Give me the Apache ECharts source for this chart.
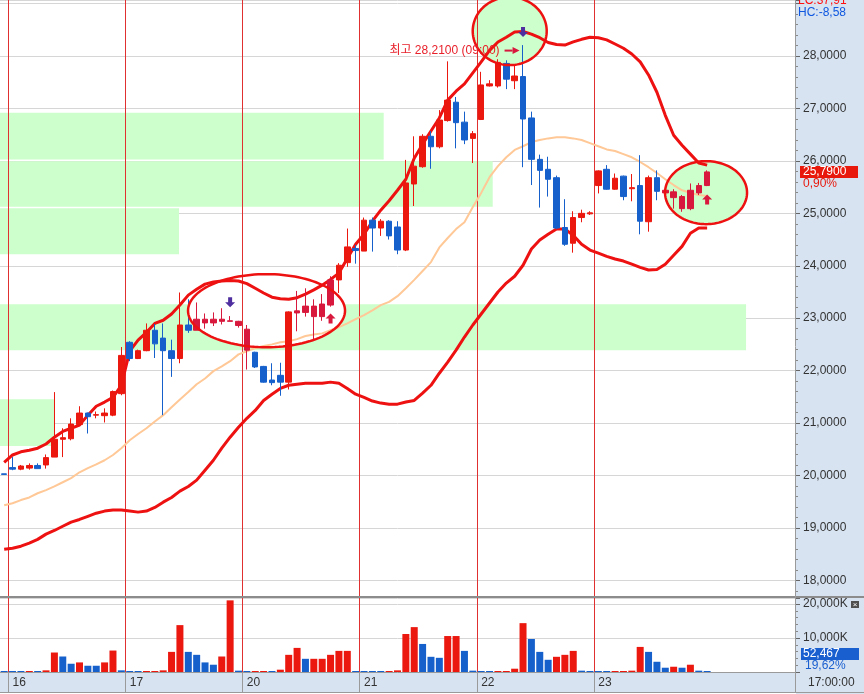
<!DOCTYPE html>
<html><head><meta charset="utf-8">
<script src="https://cdn.jsdelivr.net/npm/echarts@6/dist/echarts.min.js"></script>
<style>html,body{margin:0;padding:0;background:#fff}#c{width:864px;height:694px}</style>
</head><body><div id="c"></div>
<script>
// ---------- data ----------
const dayLabels = ['16','17','20','21','22','23'];
const dayStartIdx = [1,15,29,43,57,71];
const slotCount = 95;
const openP  = [20.03,20.15,20.12,20.14,20.19,20.20,20.35,20.69,20.70,20.97, 21.19,21.15,21.14,21.15,21.56,22.54,22.23,22.38,22.77,22.62, 22.38,22.23,22.87,22.77,22.98,22.91,22.98,22.95,22.94,22.79, 22.35,22.08,21.82,21.91,21.78,23.10,23.11,23.23,23.03,23.25, 23.73,24.06,24.33,24.28,24.87,24.72,24.85,24.74,24.30,25.56, 25.89,26.47,26.27,26.77,27.12,26.74,26.43,26.79,27.43,27.43, 27.86,27.53,27.61,26.82,26.03,25.84,25.68,24.73,24.43,24.92, 24.99,25.53,25.84,25.46,25.71,25.47,25.53,24.84,25.68,25.44, 25.41,25.32,25.09,25.39,25.53];
const closeP = [20.02,20.12,20.18,20.19,20.13,20.34,20.69,20.72,20.98,21.19, 21.12,21.16,21.19,21.60,22.29,22.23,22.38,22.77,22.51,22.38, 22.23,22.87,22.77,22.98,22.91,22.98,22.94,22.94,22.86,22.39, 22.07,21.78,21.77,21.78,23.12,23.14,23.23,23.03,23.27,23.73, 24.01,24.36,24.29,24.87,24.72,24.85,24.57,24.30,25.58,25.90, 26.47,26.27,26.78,27.16,26.73,26.40,26.52,27.45,27.47,27.88, 27.56,27.62,26.80,26.03,25.82,25.65,24.72,24.41,24.92,25.00, 25.01,25.81,25.46,25.67,25.32,25.49,24.85,25.68,25.42,25.39, 25.30,25.09,25.44,25.53,25.79];
const lowP   = [20.01,20.10,20.10,20.11,20.13,20.13,20.35,20.35,20.67,20.96, 20.80,21.09,21.01,21.13,21.53,22.18,22.22,22.37,22.24,21.15, 21.88,22.14,22.72,22.77,22.80,22.85,22.88,22.94,22.82,22.02, 22.05,21.77,21.72,21.52,21.64,22.75,23.03,22.58,22.95,23.22, 23.48,23.98,24.04,24.28,24.27,24.57,24.50,24.22,24.28,25.14, 25.87,25.85,26.24,26.75,26.24,26.32,25.96,26.78,27.42,27.40, 27.37,27.37,25.88,25.54,25.11,25.32,24.70,24.38,24.25,24.83, 24.97,25.38,25.45,25.45,25.25,25.23,24.60,24.65,25.25,25.33, 25.09,25.03,25.06,25.35,25.52];
const highP  = [20.03,20.35,20.20,20.23,20.23,20.40,21.59,20.90,21.09,21.32, 21.20,21.22,21.28,21.62,22.45,22.56,22.40,22.90,22.89,22.90, 22.59,23.49,23.36,23.30,23.09,23.11,23.19,23.04,22.95,22.87, 22.36,22.09,22.14,22.15,23.13,23.52,23.57,23.36,23.46,23.80, 24.05,24.71,24.40,24.92,24.92,24.89,24.87,24.85,26.02,26.47, 26.51,26.57,26.97,27.90,27.22,26.94,26.57,27.70,27.54,27.94, 27.92,27.83,28.21,26.94,26.12,26.08,25.72,25.27,25.04,25.07, 25.04,25.82,25.92,25.76,25.72,25.75,26.11,25.72,25.82,25.46, 25.46,25.35,25.57,25.58,25.82];
const upperBand = [20.25,20.39,20.45,20.48,20.52,20.60,20.73,20.84,20.90,20.96, 21.15,21.32,21.40,21.49,21.72,22.37,22.58,22.73,22.90,22.96, 23.08,23.25,23.44,23.55,23.65,23.69,23.71,23.72,23.71,23.66, 23.57,23.48,23.40,23.37,23.36,23.39,23.46,23.54,23.63,23.74, 23.86,24.14,24.41,24.60,24.85,25.06,25.24,25.44,25.65,26.05, 26.32,26.57,26.82,27.16,27.33,27.47,27.68,27.89,28.11,28.27, 28.36,28.46,28.47,28.42,28.35,28.26,28.22,28.21,28.27,28.32, 28.36,28.35,28.31,28.23,28.15,28.04,27.89,27.64,27.31,26.87, 26.49,26.30,26.13,25.96,25.92];
const middleBand = [19.43,19.47,19.53,19.58,19.66,19.72,19.79,19.87,19.95,20.06, 20.14,20.21,20.29,20.39,20.52,20.67,20.79,20.90,21.03,21.15, 21.30,21.45,21.59,21.74,21.85,21.99,22.08,22.18,22.31,22.37, 22.43,22.47,22.50,22.54,22.56,22.60,22.66,22.69,22.71,22.77, 22.83,22.90,22.98,23.06,23.15,23.25,23.31,23.42,23.57,23.73, 23.90,24.07,24.35,24.53,24.70,24.83,25.12,25.39,25.69,25.90, 26.07,26.21,26.28,26.36,26.40,26.43,26.45,26.45,26.43,26.40, 26.34,26.28,26.22,26.19,26.13,26.07,25.98,25.88,25.77,25.65, 25.54,25.44,25.39,25.35,25.33];
const lowerBand = [18.59,18.61,18.65,18.71,18.78,18.88,18.95,19.03,19.11,19.16, 19.22,19.28,19.32,19.34,19.34,19.32,19.30,19.32,19.39,19.49, 19.58,19.70,19.79,19.91,20.10,20.29,20.52,20.73,20.92,21.09, 21.24,21.43,21.55,21.66,21.72,21.74,21.76,21.76,21.76,21.78, 21.76,21.66,21.55,21.49,21.42,21.38,21.36,21.36,21.40,21.43, 21.57,21.72,21.95,22.16,22.39,22.64,22.87,23.08,23.29,23.50, 23.67,23.80,24.01,24.32,24.49,24.60,24.70,24.70,24.58,24.41, 24.30,24.24,24.18,24.13,24.09,24.03,23.97,23.92,23.93,24.03, 24.20,24.37,24.62,24.72,24.72];
const volumeK = [300,300,300,300,300,485,5730,4560,2430,2820, 1840,1840,2820,6310,485,300,300,300,300,485, 5920,13790,5920,5050,2820,2140,4560,21070,390,300, 300,300,300,680,5050,7090,3880,3880,3880,5050, 6210,6210,300,300,300,300,300,485,11170,13200, 8250,4470,4170,10580,10580,6210,390,300,300,300, 300,970,14370,9710,5920,3590,4470,5050,6210,390, 300,300,300,300,300,390,7380,5920,3010,1260, 1550,1260,2140,390,300];
const volumeUp = [0,0,0,1,0,1,1,0,0,1, 0,0,1,1,0,0,0,1,1,1, 1,1,0,0,0,0,1,1,0,0, 1,1,0,1,1,1,0,1,1,1, 1,1,0,0,0,0,1,1,1,1, 0,0,0,1,1,0,0,0,0,1, 1,1,1,0,0,0,1,1,1,0, 0,0,0,1,1,1,1,0,0,0, 1,0,1,0,0];
// annotation geometry in data units: [xFrom, xTo, priceTop, priceBottom]
const zones = [[-0.5,45.35,26.918,26.029],[-0.5,58.38,25.996,25.124],[-0.5,20.89,25.099,24.221],[-0.5,88.65,23.267,22.389],[-0.5,5.95,21.454,20.563]];
// ellipses: [centerSlot, centerPrice, radiusSlots, radiusPrice]
const ellipses = [[31.35,23.143,9.38,0.697],[60.41,28.477,4.42,0.649],[83.87,25.395,4.9,0.601]];
const ellipseCandles = [23,24,25,26,27,28,29,35,36,37,38,39,79,80,81,82,83,84];
const downArrowAt = [[27,23.305],[62,28.458]];
const upArrowAt = [[39,22.994],[84,25.262]];
const highNoteAt = [60.63,28.105];
const highNoteIdx = 62, highNoteTime = '09:00';
const lastChangePct = '0,90%';
const sideTexts = {lc:'LC:37,91', hc:'HC:-8,58', vol:'52,467', volPct:'19,62%', time:'17:00:00'};

// ---------- styles ----------
const UP='#eb180f', DOWN='#1660cc', UP_T='#d8183c', DOWN_T='#2560fa';
const PANEL='#d7e3f1', DAYLINE='#e03030', GRIDC='#d6d6d6';
const FONT='"Liberation Sans", Arial, sans-serif';
const fmt4 = v => v.toFixed(4).replace('.', ',');

const categories = Array.from({length:slotCount}, (_, i) => 'c' + i);
const dayOf = {};
dayStartIdx.forEach((s, k) => { dayOf['c' + s] = dayLabels[k]; });
const isDayStart = (idx) => dayStartIdx.indexOf(idx) >= 0;
const dayBounds = dayStartIdx.map(s => [s - 0.5, 0]);

const candleData = openP.map((o, i) => {
  const item = {value:[o, closeP[i], lowP[i], highP[i]]};
  if (ellipseCandles.indexOf(i) >= 0) item.itemStyle = {color:UP_T, color0:DOWN_T, borderColor:UP_T, borderColor0:DOWN_T};
  return item;
});
const volData = volumeK.map((v, i) => ({value:v, itemStyle:{color: volumeUp[i] ? UP : DOWN}}));

const ellipseFills = ['#ffffff', '#ccffcc', '#ccffcc'];
function ellipsePoints(api, cx, cy, rx, ry) {
  const c = api.coord([cx, cy]);
  const prx = api.coord([cx + rx, cy])[0] - c[0];
  const pry = c[1] - api.coord([cx, cy + ry])[1];
  const pts = [];
  for (let k = 0; k < 120; k++) {
    const t = k / 120 * Math.PI * 2;
    pts.push([c[0] + prx * Math.cos(t), c[1] + pry * Math.sin(t)]);
  }
  return pts;
}
function dayLineItem(params, api) {
  const cs = params.coordSys;
  const x = Math.floor(api.coord([api.value(0), 0])[0]) + 0.5;
  return {type:'line', shape:{x1:x, y1:cs.y, x2:x, y2:cs.y + cs.height}, style:{stroke:DAYLINE, lineWidth:1}};
}
function bandTickItem(params, api) {
  const cs = params.coordSys;
  const x = Math.floor(api.coord([api.value(0), 0])[0]) + 0.5;
  return {type:'line', shape:{x1:x, y1:cs.y + cs.height, x2:x, y2:cs.y + cs.height + 20}, style:{stroke:'#9a9a9a', lineWidth:1}};
}

const markData = [
  ...downArrowAt.map(p => [p[0], p[1], 0]),
  ...upArrowAt.map(p => [p[0], p[1], 1]),
  [highNoteAt[0], highNoteAt[1], 2]
];

const hiddenX = (g) => ({type:'value', gridIndex:g, min:-0.5, max:slotCount-0.5, show:false,
  axisLine:{show:false, onZero:false}, axisTick:{show:false}, axisLabel:{show:false}, splitLine:{show:false}});

const chart = echarts.init(document.getElementById('c'), null, {renderer:'canvas'});
const option = {
  animation:false,
  textStyle:{fontFamily:FONT},
  grid:[{left:0,right:69,top:0,height:596},{left:0,right:69,top:598,height:74}],
  xAxis:[
    {type:'category', gridIndex:0, data:categories, boundaryGap:true, axisLine:{show:false, onZero:false}, axisTick:{show:false}, axisLabel:{show:false}, splitLine:{show:false}},
    {type:'category', gridIndex:1, data:categories, boundaryGap:true,
      axisLine:{show:true, onZero:false, lineStyle:{color:'#9a9a9a'}},
      axisTick:{show:false},
      axisLabel:{show:true, interval:isDayStart, formatter:(v)=>dayOf[v]||'', align:'left', margin:5, color:'#333', fontSize:12, fontFamily:FONT},
      splitLine:{show:false}},
    hiddenX(0),
    hiddenX(1)
  ],
  yAxis:[
    {type:'value', gridIndex:0, position:'right', min:17.70, max:29.07, splitNumber:11, scale:true,
      axisLine:{show:false, onZero:false},
      axisTick:{show:true, length:5, lineStyle:{color:'#666'}},
      minorTick:{show:true, splitNumber:5, length:3, lineStyle:{color:'#888'}},
      splitLine:{show:true, lineStyle:{color:GRIDC}},
      axisLabel:{margin:8, color:'#333', fontSize:12, fontFamily:FONT, showMinLabel:false, showMaxLabel:false,
        formatter:v => (v > 28.5 || v < 17.9) ? '' : fmt4(v)}},
    {type:'value', gridIndex:1, position:'right', min:0, max:21765, interval:10000,
      axisLine:{show:false, onZero:false},
      axisTick:{show:true, length:5, lineStyle:{color:'#666'}},
      minorTick:{show:true, splitNumber:5, length:3, lineStyle:{color:'#888'}},
      splitLine:{show:true, lineStyle:{color:GRIDC}},
      axisLabel:{margin:8, color:'#333', fontSize:12, fontFamily:FONT,
        formatter:v => v === 10000 ? '10,000K' : v === 20000 ? '20,000K' : ''}}
  ],
  series:[
    {type:'custom', name:'zones', xAxisIndex:2, yAxisIndex:0, z:1, silent:true, data:zones,
      renderItem:(params, api) => {
        const a = api.coord([api.value(0), api.value(2)]);
        const b = api.coord([api.value(1), api.value(3)]);
        return {type:'rect', shape:{x:a[0], y:a[1], width:b[0]-a[0], height:b[1]-a[1]}, style:{fill:'#ccffcc'}};
      }
    },
    {type:'custom', name:'ellipseFill', xAxisIndex:2, yAxisIndex:0, z:2, silent:true, data:ellipses,
      renderItem:(params, api) => ({type:'polygon', shape:{points:ellipsePoints(api, api.value(0), api.value(1), api.value(2), api.value(3))}, style:{fill:ellipseFills[params.dataIndex]}})
    },
    {type:'custom', name:'dayLinesMain', xAxisIndex:2, yAxisIndex:0, z:2, silent:true, data:dayBounds, renderItem:dayLineItem},
    {type:'custom', name:'dayLinesVol', xAxisIndex:3, yAxisIndex:1, z:1, silent:true, data:dayBounds, renderItem:dayLineItem},
    {type:'custom', name:'bandTicks', xAxisIndex:3, yAxisIndex:1, z:1, silent:true, clip:false, data:dayBounds, renderItem:bandTickItem},
    {type:'line', name:'mid', xAxisIndex:0, yAxisIndex:0, z:3, data:middleBand, showSymbol:false, symbol:'none', lineStyle:{color:'#ffc896', width:2}},
    {type:'line', name:'upper', xAxisIndex:0, yAxisIndex:0, z:3, data:upperBand, showSymbol:false, symbol:'none', lineStyle:{color:'#ee1111', width:3}},
    {type:'line', name:'lower', xAxisIndex:0, yAxisIndex:0, z:3, data:lowerBand, showSymbol:false, symbol:'none', lineStyle:{color:'#ee1111', width:3}},
    {type:'candlestick', name:'price', xAxisIndex:0, yAxisIndex:0, z:4, data:candleData, barWidth:6,
      itemStyle:{color:UP, color0:DOWN, borderColor:UP, borderColor0:DOWN, borderWidth:1}},
    {type:'custom', name:'ellipseLine', xAxisIndex:2, yAxisIndex:0, z:5, silent:true, data:ellipses,
      renderItem:(params, api) => ({type:'polygon', shape:{points:ellipsePoints(api, api.value(0), api.value(1), api.value(2), api.value(3))}, style:{fill:null, stroke:'#ee1111', lineWidth:2.5}})
    },
    {type:'custom', name:'marks', xAxisIndex:2, yAxisIndex:0, z:6, silent:true, data:markData,
      renderItem:(params, api) => {
        const p = api.coord([api.value(0), api.value(1)]);
        const kind = api.value(2);
        const x = p[0], y = p[1];
        if (kind === 0) {
          return {type:'polygon', shape:{points:[[x-2,y-5],[x+2,y-5],[x+2,y],[x+5,y],[x,y+5],[x-5,y],[x-2,y]]}, style:{fill:'#4f2f9f'}};
        }
        if (kind === 1) {
          return {type:'polygon', shape:{points:[[x-2,y+5],[x+2,y+5],[x+2,y],[x+5,y],[x,y-5],[x-5,y],[x-2,y]]}, style:{fill:UP_T}};
        }
        return {type:'group', children:[
          {type:'line', shape:{x1:x-7, y1:y, x2:x+1, y2:y}, style:{stroke:UP_T, lineWidth:2}},
          {type:'polygon', shape:{points:[[x+1,y-3.5],[x+8,y],[x+1,y+3.5]]}, style:{fill:UP_T}},
          {type:'text', style:{text:'최고 ' + fmt4(highP[highNoteIdx]) + ' (' + highNoteTime + ')', x:x-12, y:y, align:'right', verticalAlign:'middle', fill:'#e8202a', font:'12px "Liberation Sans", "Noto Sans CJK KR", sans-serif'}}
        ]};
      }
    },
    {type:'bar', name:'volume', xAxisIndex:1, yAxisIndex:1, z:3, data:volData, barWidth:7}
  ]
};
chart.setOption(option);

const py = chart.convertToPixel({yAxisIndex:0}, closeP[closeP.length-1]);
const T = (text, x, y, fill, extra) => Object.assign({type:'text', z:10, silent:true, style:Object.assign({text, x, y, fill, font:'12px ' + FONT, verticalAlign:'middle'}, extra||{})});
chart.setOption({graphic:{elements:[
  {type:'rect', z:-5, silent:true, shape:{x:796,y:0,width:68,height:694}, style:{fill:PANEL}},
  {type:'rect', z:-5, silent:true, shape:{x:0,y:673,width:796,height:20}, style:{fill:PANEL}},
  {type:'line', z:8, silent:true, shape:{x1:0,y1:597,x2:864,y2:597}, style:{stroke:'#8c8c8c', lineWidth:2}},
  {type:'line', z:8, silent:true, shape:{x1:0,y1:692.5,x2:864,y2:692.5}, style:{stroke:'#9a9a9a', lineWidth:1}},
  {type:'line', z:8, silent:true, shape:{x1:795.5,y1:0,x2:795.5,y2:693}, style:{stroke:'#9a9a9a', lineWidth:1}},
  T(sideTexts.lc, 798, 1, '#ff1010'),
  T(sideTexts.hc, 798, 13, '#1058e0'),
  {type:'rect', z:9, silent:true, shape:{x:800, y:py-6, width:58, height:12}, style:{fill:'#e8180c'}},
  T(fmt4(closeP[closeP.length-1]), 803, py, '#ffffff'),
  T(lastChangePct, 803, py+12, '#e8180c'),
  {type:'rect', z:9, silent:true, shape:{x:851, y:601, width:8, height:7}, style:{fill:'#505050'}},
  T('×', 855, 604.5, '#ffffff', {font:'8px ' + FONT, align:'center'}),
  {type:'rect', z:9, silent:true, shape:{x:801, y:648, width:58, height:12}, style:{fill:'#1a5fd0'}},
  T(sideTexts.vol, 803, 654, '#ffffff'),
  T(sideTexts.volPct, 805, 666, '#1a5fd0'),
  T(sideTexts.time, 808, 683, '#333333')
]}});
</script>
</body></html>
